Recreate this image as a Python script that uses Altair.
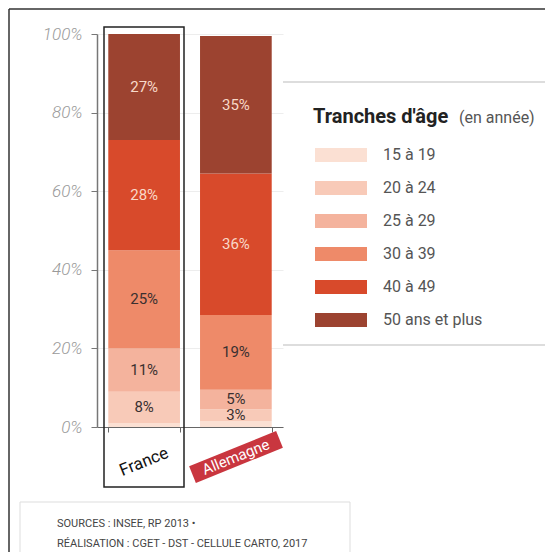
import altair as alt
import pandas as pd

# ---------------- data ----------------
pays = ["France", "Allemagne"]
tranches = ["15 à 19", "20 à 24", "25 à 29", "30 à 39", "40 à 49", "50 ans et plus"]
france = [1, 8, 11, 25, 28, 27]
allemagne = [1.5, 3, 5, 19, 36, 35]
couleurs = ["#fbe0d3", "#f8cab8", "#f4b39d", "#ee8a69", "#d84a2b", "#9c4330"]
y_ticks = list(range(0, 101, 10))
titre_legende = "Tranches d'âge"
sous_titre_legende = "(en année)"
sources = ["SOURCES : INSEE, RP 2013 •", "RÉALISATION :  CGET - DST - CELLULE CARTO, 2017"]

rows = []
for p, vals in zip(pays, [france, allemagne]):
    for i, (t, v) in enumerate(zip(tranches, vals)):
        rows.append({"pays": p, "tranche": t, "ordre": i, "valeur": v})
df = pd.DataFrame(rows)

FONT = "Roboto, sans-serif"

base = alt.Chart(df).transform_window(
    cum="sum(valeur)", groupby=["pays"], sort=[alt.SortField("ordre")], frame=[None, 0]
).transform_calculate(
    bas="datum.cum - datum.valeur", mid="datum.cum - datum.valeur / 2"
)

xs = alt.X(
    "pays:N", sort=pays, title=None,
    scale=alt.Scale(paddingInner=0.2186, paddingOuter=0.123),
    axis=alt.Axis(labels=False, ticks=True, tickBand="extent", domainColor="#666",
                  tickColor="#666", tickSize=5, grid=False, domainWidth=1.2),
)

bars = base.mark_bar().encode(
    x=xs,
    y=alt.Y("bas:Q", title=None, scale=alt.Scale(domain=[0, 100], nice=False),
            axis=alt.Axis(values=y_ticks,
                          labelExpr="datum.value % 20 == 0 ? datum.value + '%' : ''",
                          labelFont=FONT, labelFontSize=17, labelFontStyle="italic",
                          labelFontWeight=300,
                          labelColor="#9a9a9a", labelPadding=9, tickSize=6,
                          tickColor="#777", domainColor="#777", domainWidth=1.5,
                          grid=True, gridColor="#ededed", gridWidth=1)),
    y2="cum:Q",
    color=alt.Color("tranche:N", scale=alt.Scale(domain=tranches, range=couleurs),
                    legend=alt.Legend(
                        title=None, orient="none", legendX=218, legendY=107,
                        symbolType="M-1,-0.27L1,-0.27L1,0.27L-1,0.27Z", symbolSize=2704,
                        symbolStrokeWidth=0, symbolOpacity=1,
                        labelFont=FONT, labelFontSize=16, labelColor="#555",
                        labelOffset=16, clipHeight=28, rowPadding=5, padding=0)),
)

labels = base.transform_filter("datum.ordre > 0").transform_calculate(
    lab="datum.valeur + '%'"
).mark_text(font=FONT, fontSize=15).encode(
    x=alt.X("pays:N", sort=pays),
    y=alt.Y("mid:Q"),
    text="lab:N",
    color=alt.condition("datum.ordre >= 4", alt.value("#f8d9c9"), alt.value("#3a3030")),
)

one = pd.DataFrame({"a": [0]})

def rule(x1, y1, x2, y2, color, w):
    return alt.Chart(one).mark_rule(color=color, strokeWidth=w).encode(
        x=alt.value(x1), y=alt.value(y1), x2=alt.value(x2), y2=alt.value(y2))

frame_top = rule(-88, -25, 448, -25, "#333", 1.5)
frame_left = rule(-88, -25, -88, 520, "#333", 1.5)
leg_top = rule(186, 48, 448, 48, "#bbb", 1.2)
leg_bot = rule(186, 311, 448, 311, "#bbb", 1.2)

src_box = alt.Chart(one).mark_rect(fill=None, stroke="#ddd", strokeWidth=1).encode(
    x=alt.value(-77), x2=alt.value(253), y=alt.value(468), y2=alt.value(530))

france_box = alt.Chart(one).mark_rect(fill=None, stroke="#222", strokeWidth=1.5).encode(
    x=alt.value(7), x2=alt.value(87), y=alt.value(-7), y2=alt.value(453))

red_band = alt.Chart(one).mark_rule(color="#c9363f", strokeWidth=18, strokeCap="butt").encode(
    x=alt.value(95.5), y=alt.value(440.6), x2=alt.value(182.5), y2=alt.value(405.4))

noms = pd.DataFrame({"pays": pays, "coul": ["#111", "#ffffff"], "yy": [428, 423],
                     "taille": [17, 15]})
country_txt = alt.Chart(noms).mark_text(font=FONT, angle=338,
                                         align="center", baseline="middle").encode(
    x=alt.X("pays:N", sort=pays),
    y=alt.Y("yy:Q", scale=None),
    text="pays:N",
    color=alt.Color("coul:N", scale=None),
    size=alt.Size("taille:Q", scale=None),
)

title1 = alt.Chart(one).mark_text(text=titre_legende, font=FONT, fontSize=20, fontWeight="bold",
                                  color="#222", align="left", baseline="alphabetic").encode(
    x=alt.value(216), y=alt.value(89))
title2 = alt.Chart(one).mark_text(text=sous_titre_legende, font=FONT, fontSize=16,
                                  color="#555", align="left", baseline="alphabetic").encode(
    x=alt.value(362), y=alt.value(89))

src1 = alt.Chart(one).mark_text(text=sources[0], font=FONT, fontSize=11, color="#444",
                                align="left", baseline="alphabetic").encode(
    x=alt.value(-40), y=alt.value(493))
src2 = alt.Chart(one).mark_text(text=sources[1], font=FONT, fontSize=11, color="#444",
                                align="left", baseline="alphabetic").encode(
    x=alt.value(-40), y=alt.value(513))

chart = alt.layer(
    frame_top, frame_left, leg_top, leg_bot, src_box,
    bars, labels, france_box, red_band, country_txt, title1, title2, src1, src2,
).properties(
    width=186, height=393,
    padding={"left": 89, "top": 26, "right": 262, "bottom": 125},
    autosize=alt.AutoSizeParams(type="none"),
    background="white",
).configure_view(stroke=None)

chart.save("out.html", embed_options={"renderer": "svg", "actions": False})
